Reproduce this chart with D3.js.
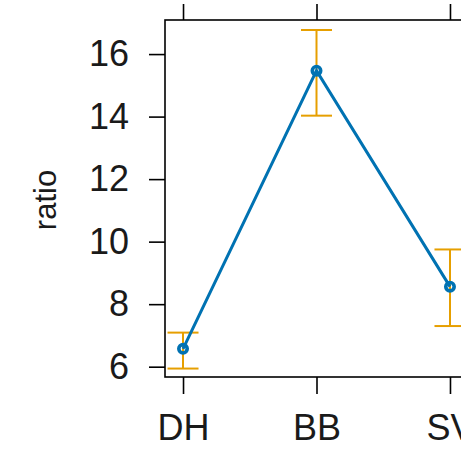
<!DOCTYPE html>
<html>
<head>
<meta charset="utf-8">
<script src="https://cdn.jsdelivr.net/npm/d3@7"></script>
<style>
  body { margin: 0; background: #fff; }
  text { font-family: "Liberation Sans", Arial, sans-serif; }
</style>
</head>
<body>
<script>
// data
var groups = ["DH", "BB", "SV"];
var means = [6.57, 15.47, 8.56];
var lower = [5.94, 14.03, 7.30];
var upper = [7.09, 16.77, 9.75];
var yTicks = [6, 8, 10, 12, 14, 16];

var width = 461, height = 452;
// panel edges (window.top is reserved, so no "top" here)
var panelLeft = 165, panelTop = 20, panelBottom = 377, panelRight = 468;

var svg = d3.select("body").append("svg")
    .attr("width", width)
    .attr("height", height);

// categories sit on an index scale, panel runs past the right edge
var x = d3.scaleLinear().domain([-0.135, 2.135]).range([panelLeft, panelRight]);
var y = d3.scaleLinear().domain([5.67, 17.09]).range([panelBottom, panelTop]);

// panel frame
svg.append("rect")
    .attr("x", panelLeft).attr("y", panelTop)
    .attr("width", panelRight - panelLeft).attr("height", panelBottom - panelTop)
    .attr("fill", "none").attr("stroke", "#000").attr("stroke-width", 1.6);

// left axis
var yAxis = svg.append("g")
    .attr("transform", "translate(" + panelLeft + ",0)")
    .call(d3.axisLeft(y).tickValues(yTicks).tickSize(16).tickPadding(20).tickSizeOuter(0));
yAxis.select(".domain").remove();
yAxis.selectAll("line").attr("stroke", "#000").attr("stroke-width", 1.6);
yAxis.selectAll("text").attr("font-size", 36).attr("fill", "#1a1a1a")
    .attr("font-family", "Liberation Sans, Arial, sans-serif");

// bottom axis
var xAxis = svg.append("g")
    .attr("transform", "translate(0," + panelBottom + ")")
    .call(d3.axisBottom(x).tickValues(d3.range(groups.length))
        .tickFormat(function(i) { return groups[i]; })
        .tickSize(17).tickPadding(20).tickSizeOuter(0));
xAxis.select(".domain").remove();
xAxis.selectAll("line").attr("stroke", "#000").attr("stroke-width", 1.6);
xAxis.selectAll("text").attr("font-size", 36).attr("fill", "#1a1a1a")
    .attr("font-family", "Liberation Sans, Arial, sans-serif");

// top axis, ticks only
var tAxis = svg.append("g")
    .attr("transform", "translate(0," + panelTop + ")")
    .call(d3.axisTop(x).tickValues(d3.range(groups.length))
        .tickFormat("").tickSize(16).tickSizeOuter(0));
tAxis.select(".domain").remove();
tAxis.selectAll("line").attr("stroke", "#000").attr("stroke-width", 1.6);

// y label
svg.append("text")
    .attr("transform", "translate(56,200) rotate(-90)")
    .attr("text-anchor", "middle")
    .attr("font-size", 31)
    .attr("fill", "#1a1a1a")
    .text("ratio");

// error bars
var capW = 15.5;
var eb = svg.append("g").attr("stroke", "#E69F00").attr("stroke-width", 2).attr("fill", "none");
groups.forEach(function(g, i) {
    eb.append("line").attr("x1", x(i)).attr("x2", x(i)).attr("y1", y(lower[i])).attr("y2", y(upper[i]));
    eb.append("line").attr("x1", x(i) - capW).attr("x2", x(i) + capW).attr("y1", y(lower[i])).attr("y2", y(lower[i]));
    eb.append("line").attr("x1", x(i) - capW).attr("x2", x(i) + capW).attr("y1", y(upper[i])).attr("y2", y(upper[i]));
});

// mean line and points
var line = d3.line().x(function(d, i) { return x(i); }).y(function(d) { return y(d); });
svg.append("path")
    .attr("d", line(means))
    .attr("fill", "none")
    .attr("stroke", "#0072B2")
    .attr("stroke-width", 3);

svg.selectAll("circle.pt").data(means).enter().append("circle")
    .attr("class", "pt")
    .attr("cx", function(d, i) { return x(i); })
    .attr("cy", function(d) { return y(d); })
    .attr("r", 4.2)
    .attr("fill", "none")
    .attr("stroke", "#0072B2")
    .attr("stroke-width", 3.6);
</script>
</body>
</html>
